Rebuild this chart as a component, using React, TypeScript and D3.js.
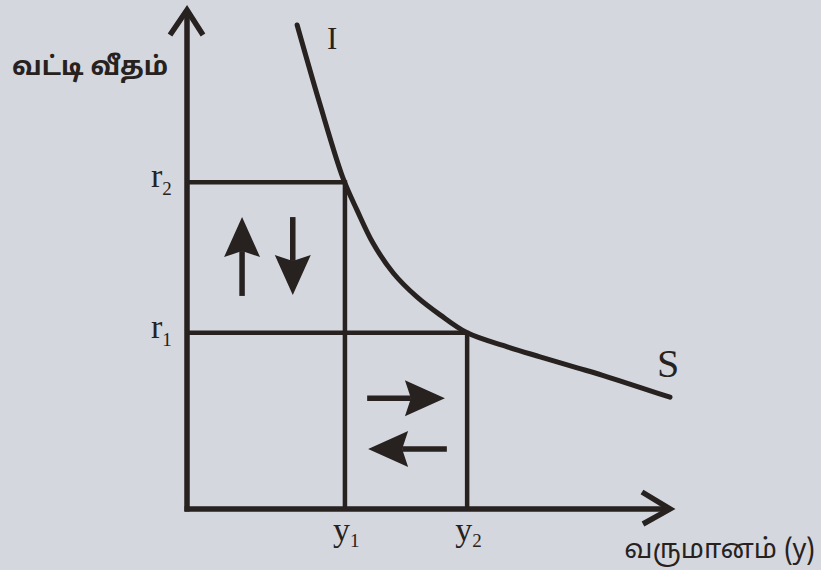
import { useEffect, useRef } from 'react';
import * as d3 from 'd3';

const W = 821;
const H = 570;

// IS curve: income vs interest rate, both on a 0–100 scale
const curveIncome = [22.8, 27.5, 32.3, 35.2, 38.5, 42.7, 47.6, 52.4, 58.0, 66.3, 73.1, 80.8, 87.0, 100];
const curveRate = [97.0, 81.2, 66.3, 59.9, 53.3, 47.3, 42.5, 38.9, 35.3, 32.5, 30.5, 28.3, 26.5, 22.4];

// equilibrium levels
const incomeLevels = [32.7, 58.0]; // y1, y2
const incomeLabels = ['1', '2'];
const rateLevels = [65.5, 35.3]; // r2, r1
const rateLabels = ['2', '1'];

// adjustment arrows in data units (tail -> tip)
const arrowTails = [
  [11.4, 42.7],
  [21.9, 58.5],
  [37.3, 22.2],
  [53.8, 12.0],
];
const arrowTips = [
  [11.4, 58.5],
  [21.9, 42.9],
  [53.4, 22.2],
  [37.5, 12.0],
];

const yAxisTitle = 'வட்டி வீதம்';
const xAxisTitle = 'வருமானம் (y)';
const curveLabelTop = 'I';
const curveLabelEnd = 'S';

export default function App() {
  const svgRef = useRef<SVGSVGElement>(null);

  useEffect(() => {
    if (!svgRef.current) return;
    const svg = d3.select(svgRef.current);
    svg.selectAll('*').remove();

    const ink = '#272120';
    const serif = '"Liberation Serif", "Times New Roman", serif';
    const tamil = '"Noto Sans Tamil", "Noto Sans", "DejaVu Sans", sans-serif';

    const x = d3.scaleLinear().domain([0, 100]).range([187, 670]);
    const y = d3.scaleLinear().domain([0, 100]).range([509, 10]);

    svg.append('rect').attr('width', W).attr('height', H).attr('fill', '#d4d7dd');

    // guide lines from the axes to the curve
    rateLevels.forEach((r, i) => {
      svg.append('line')
        .attr('x1', x(0)).attr('x2', x(incomeLevels[i]))
        .attr('y1', y(r)).attr('y2', y(r))
        .attr('stroke', ink).attr('stroke-width', 4.5);
    });
    incomeLevels.forEach((v, i) => {
      svg.append('line')
        .attr('x1', x(v)).attr('x2', x(v))
        .attr('y1', y(rateLevels[i]) - 2).attr('y2', y(0))
        .attr('stroke', ink).attr('stroke-width', 4.5);
    });

    // axes
    svg.append('line')
      .attr('x1', x(0)).attr('x2', x(0))
      .attr('y1', y(0) + 2.5).attr('y2', y(100) + 2)
      .attr('stroke', ink).attr('stroke-width', 5.5);
    svg.append('line')
      .attr('x1', x(0) - 2.5).attr('x2', x(100) - 3)
      .attr('y1', y(0)).attr('y2', y(0))
      .attr('stroke', ink).attr('stroke-width', 5.5);
    svg.append('path')
      .attr('d', `M${x(0) - 17},${y(100) + 25} L${x(0)},${y(100)} L${x(0) + 16},${y(100) + 25}`)
      .attr('fill', 'none').attr('stroke', ink).attr('stroke-width', 5.5);
    svg.append('path')
      .attr('d', `M${x(100) - 28},${y(0) - 17} L${x(100)},${y(0)} L${x(100) - 27},${y(0) + 15}`)
      .attr('fill', 'none').attr('stroke', ink).attr('stroke-width', 5.5);

    // IS curve
    const pts = curveIncome.map((v, i) => [v, curveRate[i]] as [number, number]);
    const line = d3.line<[number, number]>()
      .x(d => x(d[0])).y(d => y(d[1]))
      .curve(d3.curveCatmullRom.alpha(0.5));
    svg.append('path')
      .attr('d', line(pts))
      .attr('fill', 'none').attr('stroke', ink).attr('stroke-width', 5).attr('stroke-linecap', 'round');

    // adjustment arrows
    arrowTails.forEach((t, i) => {
      const [x1, y1] = [x(t[0]), y(t[1])];
      const [x2, y2] = [x(arrowTips[i][0]), y(arrowTips[i][1])];
      const ang = Math.atan2(y2 - y1, x2 - x1);
      const headLen = 40;
      const half = 18;
      const notch = 6;
      const bx = x2 - headLen * Math.cos(ang);
      const by = y2 - headLen * Math.sin(ang);
      const px = -Math.sin(ang);
      const py = Math.cos(ang);
      const nx = bx + notch * Math.cos(ang);
      const ny = by + notch * Math.sin(ang);
      svg.append('line')
        .attr('x1', x1).attr('y1', y1)
        .attr('x2', nx).attr('y2', ny)
        .attr('stroke', ink).attr('stroke-width', 5.5);
      svg.append('path')
        .attr('d', `M${x2},${y2} L${bx + half * px},${by + half * py} L${nx},${ny} L${bx - half * px},${by - half * py} Z`)
        .attr('fill', ink);
    });

    // level labels
    rateLevels.forEach((r, i) => {
      const t = svg.append('text')
        .attr('x', x(0) - 36).attr('y', y(r) + 5)
        .attr('font-family', serif).attr('font-size', 34).attr('fill', ink)
        .text('r');
      t.append('tspan').attr('font-size', 19).attr('dy', 8).text(rateLabels[i]);
    });
    incomeLevels.forEach((v, i) => {
      const t = svg.append('text')
        .attr('x', x(v) - 12).attr('y', 541)
        .attr('font-family', serif).attr('font-size', 34).attr('fill', ink)
        .text('y');
      t.append('tspan').attr('font-size', 19).attr('dy', 6).text(incomeLabels[i]);
    });

    // curve labels
    svg.append('text')
      .attr('x', x(curveIncome[0]) + 30).attr('y', 49)
      .attr('font-family', serif).attr('font-size', 31).attr('fill', ink)
      .text(curveLabelTop);
    svg.append('text')
      .attr('x', x(curveIncome[curveIncome.length - 1]) - 13).attr('y', 377)
      .attr('font-family', serif).attr('font-size', 40).attr('fill', ink)
      .text(curveLabelEnd);

    // axis titles
    svg.append('text')
      .attr('x', 12).attr('y', 75)
      .attr('font-family', tamil).attr('font-size', 26).attr('font-weight', 700).attr('fill', ink)
      .text(yAxisTitle);
    svg.append('text')
      .attr('x', 815).attr('y', 558)
      .attr('text-anchor', 'end')
      .attr('font-family', tamil).attr('font-size', 27).attr('fill', ink)
      .text(xAxisTitle);
  }, []);

  return (
    <svg ref={svgRef} width={W} height={H} style={{ position: 'absolute', left: 0, top: 0 }} />
  );
}
